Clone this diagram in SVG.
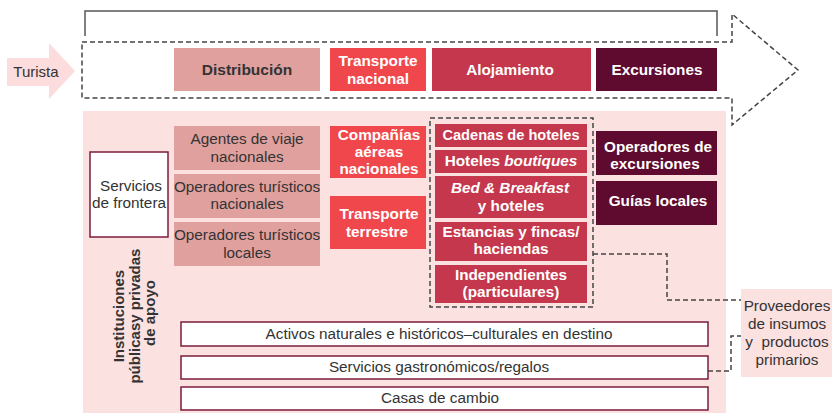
<svg xmlns="http://www.w3.org/2000/svg" width="832" height="413" viewBox="0 0 832 413">
<defs>
<style>
text{font-family:"Liberation Sans",Arial,sans-serif;}
.n{font-size:15.3px;fill:#333333;text-anchor:middle;}
.b{font-size:15.3px;font-weight:bold;fill:#ffffff;text-anchor:middle;}
.bd{font-size:15.5px;font-weight:bold;fill:#333333;text-anchor:middle;}
.dist{fill:#e0a09e;}
.tr{fill:#ef474b;}
.al{fill:#c4374c;}
.ex{fill:#5f0a2f;}
.wb{fill:#ffffff;stroke:#7b1c3c;stroke-width:1.5;}
.dash{fill:none;stroke:#444444;stroke-width:1.5;stroke-dasharray:5,3;}
</style>
</defs>
<rect width="832" height="413" fill="#ffffff"/>

<!-- background panel -->
<rect id="panel" x="83" y="111" width="643" height="302" fill="#fce1e1"/>

<!-- top bracket -->
<path d="M85,36 V11 H717 V36" fill="none" stroke="#555555" stroke-width="1.5"/>

<!-- dashed big arrow -->
<path d="M82,42 H732 V14 L798,70 L732,125 V98 H82 Z" class="dash"/>

<g id="turista">
<path d="M7,58 H49 V43 L75,71 L49,99 V86 H7 Z" fill="#fcdcdc"/>
<text class="n" x="36" y="77" style="font-size:15px">Turista</text>
</g>

<g id="distribucion">
<rect class="dist" x="174" y="48" width="146" height="43"/>
<text class="bd" x="247" y="75">Distribución</text>
</g>
<g id="transporte-nacional">
<rect class="tr" x="330" y="48" width="96" height="43"/>
<text class="b" x="378" y="66">Transporte</text>
<text class="b" x="378" y="84">nacional</text>
</g>
<g id="alojamiento">
<rect class="al" x="432" y="48" width="159" height="43"/>
<text class="b" x="510" y="75">Alojamiento</text>
</g>
<g id="excursiones">
<rect class="ex" x="596" y="48" width="121" height="43"/>
<text class="b" x="657" y="75">Excursiones</text>
</g>

<g id="servicios-frontera">
<rect class="wb" x="90" y="152" width="78" height="85"/>
<text class="n" x="131" y="191">Servicios</text>
<text class="n" x="129" y="208">de frontera</text>
</g>

<g id="instituciones">
<text font-size="15" font-weight="bold" fill="#333333" text-anchor="middle" transform="rotate(-90)">
<tspan x="-314" y="124">Instituciones</tspan>
<tspan x="-314" y="139.5">públicasy privadas</tspan>
<tspan x="-313" y="155">de apoyo</tspan>
</text>
</g>

<g id="agentes">
<rect class="dist" x="174" y="126" width="146" height="44"/>
<text class="n" x="247" y="144">Agentes de viaje</text>
<text class="n" x="247" y="162">nacionales</text>
</g>
<g id="operadores-nacionales">
<rect class="dist" x="174" y="174" width="146" height="44"/>
<text class="n" x="247" y="192">Operadores turísticos</text>
<text class="n" x="247" y="209">nacionales</text>
</g>
<g id="operadores-locales">
<rect class="dist" x="174" y="222" width="146" height="44"/>
<text class="n" x="247" y="240">Operadores turísticos</text>
<text class="n" x="247" y="258">locales</text>
</g>

<g id="companias-aereas">
<rect class="tr" x="330" y="126" width="96" height="52"/>
<text class="b" x="379" y="140">Compañías</text>
<text class="b" x="379" y="157">aéreas</text>
<text class="b" x="379" y="174">nacionales</text>
</g>
<g id="transporte-terrestre">
<rect class="tr" x="330" y="196" width="96" height="53"/>
<text class="b" x="379" y="219">Transporte</text>
<text class="b" x="377" y="237">terrestre</text>
</g>

<g id="alojamientos">
<rect x="430" y="118" width="163" height="189" class="dash"/>
<rect class="al" x="435" y="124" width="152" height="23"/>
<text class="b" x="511" y="140" style="font-size:14.6px">Cadenas de hoteles</text>
<rect class="al" x="435" y="150" width="152" height="23"/>
<text class="b" x="511" y="166">Hoteles <tspan font-style="italic">boutiques</tspan></text>
<rect class="al" x="435" y="176" width="152" height="42"/>
<text class="b" x="510" y="193" font-style="italic">Bed &amp; Breakfast</text>
<text class="b" x="511" y="211">y hoteles</text>
<rect class="al" x="435" y="222" width="152" height="39"/>
<text class="b" x="511" y="237">Estancias y fincas/</text>
<text class="b" x="511" y="254">haciendas</text>
<rect class="al" x="435" y="265" width="152" height="38"/>
<text class="b" x="511" y="280">Independientes</text>
<text class="b" x="511" y="297">(particulares)</text>
</g>

<g id="operadores-excursiones">
<rect class="ex" x="596" y="131" width="121" height="44"/>
<text class="b" x="658" y="152">Operadores de</text>
<text class="b" x="655" y="169">excursiones</text>
</g>
<g id="guias-locales">
<rect class="ex" x="596" y="181" width="121" height="44"/>
<text class="b" x="658" y="206">Guías locales</text>
</g>

<g id="activos">
<rect class="wb" x="181" y="322" width="527" height="24"/>
<text class="n" x="439" y="339">Activos naturales e históricos–culturales en destino</text>
</g>
<g id="gastronomicos">
<rect class="wb" x="181" y="356" width="527" height="23"/>
<text class="n" x="439" y="372">Servicios gastronómicos/regalos</text>
</g>
<g id="casas-cambio">
<rect class="wb" x="181" y="387" width="527" height="23"/>
<text class="n" x="440" y="403">Casas de cambio</text>
</g>

<g id="proveedores">
<rect x="741" y="289" width="91" height="88" fill="#fce1e1"/>
<text class="n" x="787" y="311">Proveedores</text>
<text class="n" x="787" y="329">de insumos</text>
<text class="n" x="787" y="347" xml:space="preserve">y  productos</text>
<text class="n" x="787" y="365">primarios</text>
</g>

<g id="connectors">
<path class="dash" d="M593,254 H667 V300 H741"/>
<path class="dash" d="M708,371 H731 V336 H741"/>
</g>
</svg>
